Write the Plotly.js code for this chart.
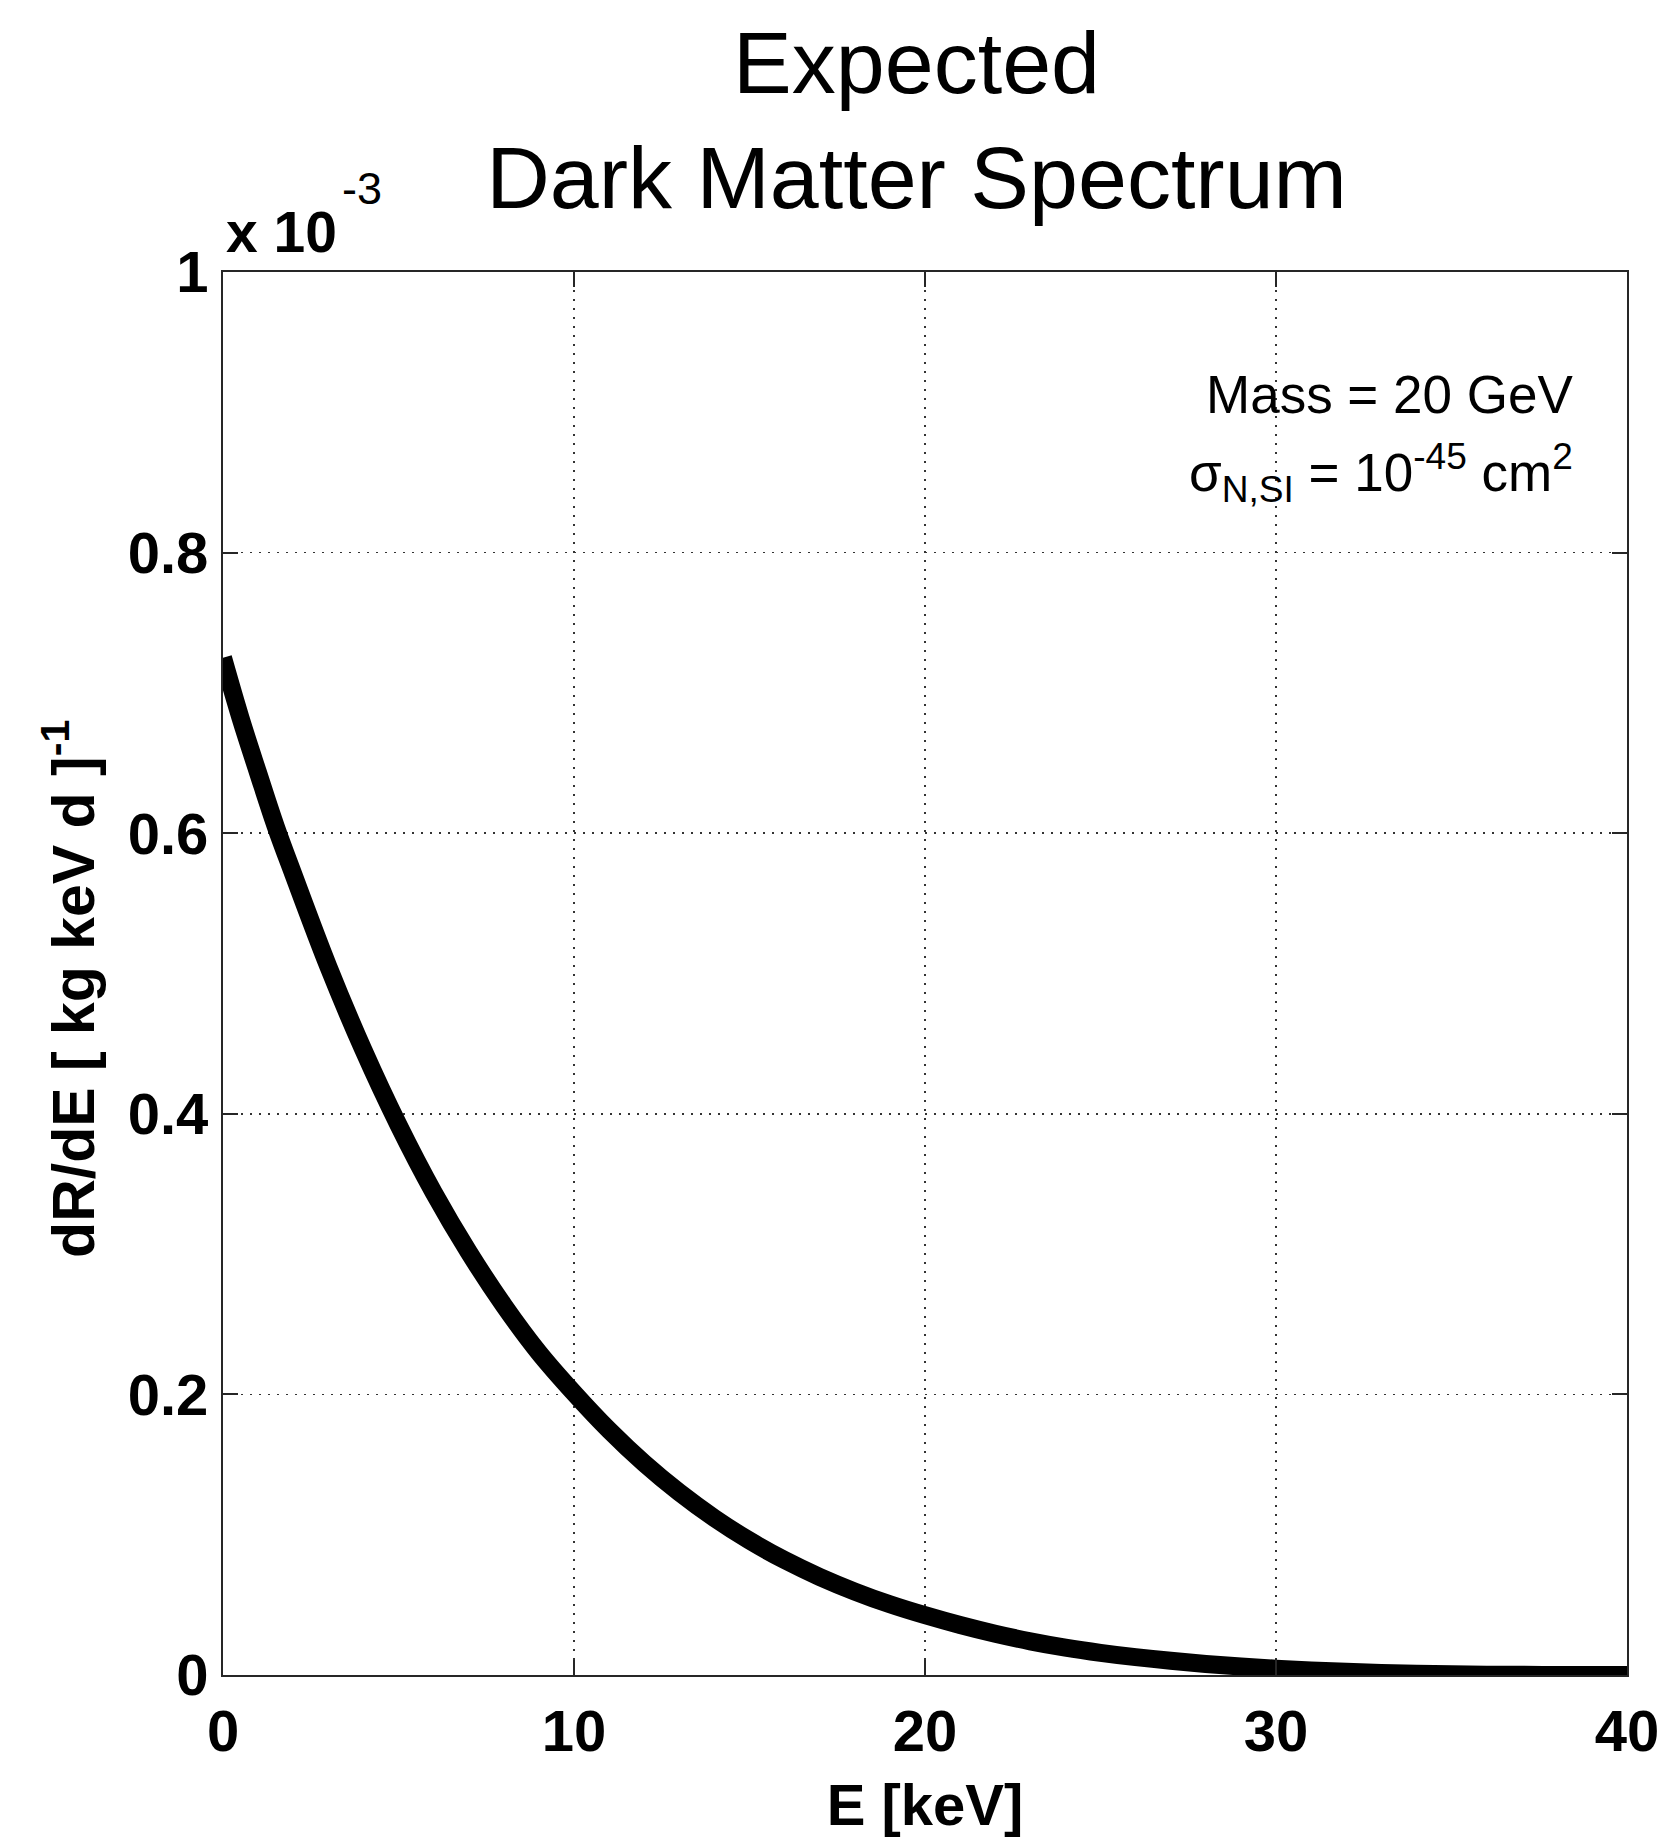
<!DOCTYPE html>
<html>
<head>
<meta charset="utf-8">
<script src="https://cdn.plot.ly/plotly-3.0.1.min.js"></script>
<style>
  html, body { margin: 0; padding: 0; background: #ffffff; }
  #chart { width: 1665px; height: 1839px; }
</style>
</head>
<body>
<div id="chart"></div>
<script>
// Recoil energy (keV)
const energyKeV = [0, 0.5, 1, 1.5, 2, 3, 4, 5, 6, 7, 8, 9, 10, 11, 12, 13, 14, 15, 16, 17, 18, 19, 20,
                   21, 22, 23, 24, 25, 26, 27, 28, 29, 30, 31, 32, 33, 34, 35, 36, 37, 38, 39, 40];

// Differential rate dR/dE in units of 1e-3 per (kg keV day)
const rateE3 = [0.725, 0.682, 0.643, 0.605, 0.571, 0.505, 0.4455, 0.392, 0.344, 0.3015, 0.2635, 0.2298, 0.201,
                0.1745, 0.1509, 0.1301, 0.1118, 0.0958, 0.0819, 0.0699, 0.0595, 0.0504, 0.0426,
                0.0356, 0.0294, 0.0240, 0.0195, 0.0158, 0.0127, 0.0101, 0.0079, 0.0060, 0.0045,
                0.0033, 0.0023, 0.0015, 0.0009, 0.0005, 0.00025, 0.00012, 0.00006, 0.00003, 0.000015];

const xTicks = [0, 10, 20, 30, 40];
const yTicks = [0, 0.2, 0.4, 0.6, 0.8, 1];

const titleLines = ['Expected', 'Dark Matter Spectrum'];
const xTitle = 'E [keV]';
const yTitle = 'dR/dE [ kg keV d ]<sup>-1</sup>';
const scaleBase = 'x 10';
const scaleExp = '-3';
const massText = 'Mass = 20 GeV';
const sigmaText = '\u03c3<sub>N,SI</sub> = 10<sup>-45</sup> cm<sup>2</sup>';

const FONT = 'Liberation Sans, Arial, Helvetica, sans-serif';
const AXIS_COLOR = '#262626';

const trace = {
  x: energyKeV,
  y: rateE3,
  type: 'scatter',
  mode: 'lines',
  line: { color: '#000000', width: 18, shape: 'spline', smoothing: 1 },
  hoverinfo: 'skip'
};

function axisBase(range, ticks) {
  return {
    range: range,
    tickmode: 'array',
    tickvals: ticks,
    ticks: 'inside',
    ticklen: 15,
    tickwidth: 2,
    tickcolor: AXIS_COLOR,
    showline: true,
    linecolor: AXIS_COLOR,
    linewidth: 2,
    mirror: 'ticks',
    showgrid: true,
    gridcolor: '#333333',
    gridwidth: 1.7,
    griddash: '2px,7px',
    zeroline: false,
    fixedrange: true,
    tickfont: { family: FONT, size: 58, color: '#000000', weight: 'bold' }
  };
}

const xaxis = Object.assign(axisBase([0, 40], xTicks), {
  ticklabelstandoff: 4,
  title: { text: xTitle, font: { family: FONT, size: 58, color: '#000000', weight: 'bold' }, standoff: 23 }
});

const yaxis = Object.assign(axisBase([0, 1], yTicks), {
  ticklabelstandoff: 1
});

const layout = {
  width: 1665,
  height: 1839,
  margin: { l: 223, r: 38, t: 272, b: 164, pad: 0 },
  paper_bgcolor: '#ffffff',
  plot_bgcolor: '#ffffff',
  showlegend: false,
  title: {
    text: titleLines.join('<br>'),
    font: { family: FONT, size: 88, color: '#000000' },
    xref: 'paper', x: 0.494, xanchor: 'center',
    yref: 'container', y: 0.9493, yanchor: 'top'
  },
  xaxis: xaxis,
  yaxis: yaxis,
  annotations: [
    {
      // y-axis title, drawn vertically left of the tick labels
      text: yTitle, xref: 'paper', yref: 'paper', x: -0.109, y: 0.489,
      xanchor: 'center', yanchor: 'middle', textangle: -90, showarrow: false,
      font: { family: FONT, size: 59, color: '#000000', weight: 'bold' }
    },
    {
      text: scaleBase, xref: 'paper', yref: 'paper', x: 0.0, y: 1.0,
      xanchor: 'left', yanchor: 'bottom', xshift: 1, yshift: 6, showarrow: false,
      font: { family: FONT, size: 57, color: '#000000', weight: 'bold' }
    },
    {
      text: scaleExp, xref: 'paper', yref: 'paper', x: 0.0, y: 1.0,
      xanchor: 'left', yanchor: 'bottom', xshift: 117, yshift: 56, showarrow: false,
      font: { family: FONT, size: 45, color: '#000000' }
    },
    {
      text: massText, xref: 'paper', yref: 'paper', x: 0.963, y: 0.890,
      xanchor: 'right', yanchor: 'bottom', showarrow: false,
      font: { family: FONT, size: 53, color: '#000000' }
    },
    {
      text: sigmaText, xref: 'paper', yref: 'paper', x: 0.963, y: 0.8286,
      xanchor: 'right', yanchor: 'bottom', showarrow: false,
      font: { family: FONT, size: 53, color: '#000000' }
    }
  ]
};

Plotly.newPlot('chart', [trace], layout, { staticPlot: true, displayModeBar: false });
</script>
</body>
</html>
